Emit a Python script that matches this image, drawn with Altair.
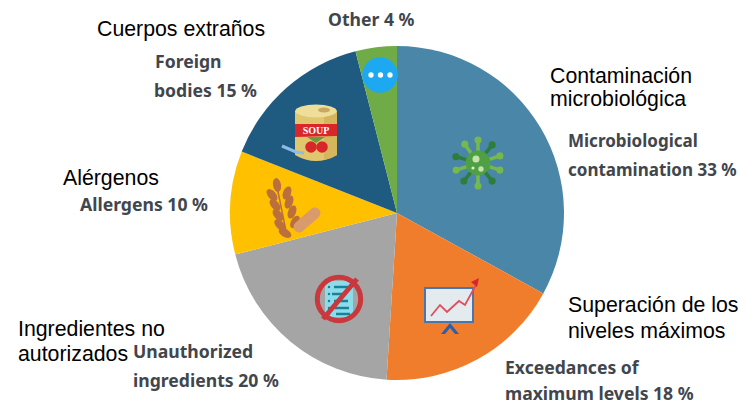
import math
import re
import altair as alt
import pandas as pd

categories = ["Microbiological contamination", "Exceedances of maximum levels", "Unauthorized ingredients",
              "Allergens", "Foreign bodies", "Other"]
shares = [33, 18, 20, 10, 15, 4]
colours = ["#4A86A8", "#F07D2B", "#A5A5A5", "#FFC000", "#1F5A80", "#6FAB46"]

english_labels = ["Other 4 %", "Foreign", "bodies 15 %", "Microbiological", "contamination 33 %", "Allergens 10 %",
                  "Unauthorized", "ingredients 20 %", "Exceedances of", "maximum levels 18 %"]
spanish_labels = ["Cuerpos extraños", "Contaminación", "microbiológica", "Alérgenos", "Superación de los",
                  "niveles máximos", "Ingredientes no", "autorizados"]

english_at = [(328, 26, 17.6), (155, 68, 17.6), (154, 97, 17.6), (568, 147, 17), (568, 176, 17), (80, 211, 17.6),
              (133, 358, 17.6), (133, 387, 17.6), (505, 374, 17.6), (505, 400, 17.6)]
spanish_at = [(97, 36), (550, 83), (550, 106), (63, 185), (568, 312), (568, 338), (18, 336), (18, 361)]

OFF = 8
layers = []

pie = pd.DataFrame({"category": categories, "share": shares, "idx": range(len(shares))})
layers.append(
    alt.Chart(pie).mark_arc(outerRadius=167).encode(
        theta=alt.Theta("share:Q", stack=True),
        order=alt.Order("idx:Q"),
        color=alt.Color("category:N", legend=None, sort=categories,
                        scale=alt.Scale(domain=categories, range=colours)),
        x=alt.value(397 - OFF), y=alt.value(213 - OFF),
    )
)

one = pd.DataFrame({"a": [0]})


def path(d, x, y, fill="transparent", stroke="transparent", sw=0, box=100, **kw):
    """d is written in px around (x, y); rescaled to the symbol's -1..1 box."""
    scaled = re.sub(r"-?\d+\.?\d*", lambda m: f"{float(m.group()) / (box / 2):.4f}", d)
    layers.append(alt.Chart(one).mark_point(
        shape=scaled, size=box * box, filled=True, fill=fill, stroke=stroke,
        strokeWidth=sw, opacity=1, **kw).encode(x=alt.value(x - OFF), y=alt.value(y - OFF)))


def circ(x, y, r, fill="transparent", stroke="transparent", sw=0):
    layers.append(alt.Chart(one).mark_point(
        shape="circle", size=math.pi * r * r, filled=True, fill=fill, stroke=stroke,
        strokeWidth=sw, opacity=1).encode(x=alt.value(x - OFF), y=alt.value(y - OFF)))


def ellipse(rx, ry, deg):
    a = math.radians(deg)
    pts = []
    n = 16
    for i in range(n):
        t = 2 * math.pi * i / n
        px, py = rx * math.cos(t), ry * math.sin(t)
        pts.append((px * math.cos(a) - py * math.sin(a), px * math.sin(a) + py * math.cos(a)))
    return "M" + "L".join(f"{p:.2f},{q:.2f}" for p, q in pts) + "Z"


# "Other" icon
circ(380, 75, 20, fill="#1DA9F2")
for dx in (371, 380.5, 390):
    circ(dx, 75, 3, fill="#FFFFFF")

# Soup can
path("M-21,-22L-21,22Q0,34 21,22L21,-22Z", 316, 133, fill="#E0C66C")
path("M8,-22L21,-22L21,22Q15,26 8,27Z", 316, 133, fill="#D4B65C")
path(ellipse(21, 6.5, 0), 316, 111, fill="#EFDD9A")
path(ellipse(6, 2.5, 0), 324, 110, fill="#C8A860")
path("M-21,-6L21,-6L21,6L-21,7Z", 316, 130, fill="#D9262B")
layers.append(alt.Chart(pd.DataFrame({"t": ["SOUP"]})).mark_text(
    font="Liberation Serif", fontWeight="bold", fontSize=10, color="#FFFFFF", align="center").encode(
    x=alt.value(316 - OFF), y=alt.value(131 - OFF), text="t:N"))
circ(311, 147, 6.5, fill="#D9262B")
circ(322, 147, 6.5, fill="#D9262B")
path("M-9,-3L9,-3L0,3Z", 316, 140, fill="#6B9B3C")
path("M-9,-4L5,2L13,3", 291, 150, stroke="#8DBBEA", sw=3)

# Virus
vx, vy = 478, 163
spike_angles = [(0, "#74B84E"), (38, "#2E7D3A"), (72, "#74B84E"), (108, "#74B84E"), (142, "#2E7D3A"),
                (180, "#74B84E"), (218, "#2E7D3A"), (252, "#74B84E"), (286, "#2E7D3A"), (325, "#74B84E")]
for deg, col in spike_angles:
    a = math.radians(deg)
    tx, ty = 23 * math.sin(a), -23 * math.cos(a)
    path(f"M0,0L{tx:.2f},{ty:.2f}", vx, vy, stroke=col, sw=3.5)
    circ(vx + tx, vy + ty, 4, fill=col)
circ(vx, vy, 14, fill="#4F9F45")
circ(476, 159, 4, fill="#C4E3A8")
circ(473, 168, 1.8, fill="#DDF0C8")
circ(481, 169, 3, fill="#C4E3A8")

# Presentation board
path("M-24,-17L24,-17L24,17L-24,17Z", 449, 305, fill="#E4EBEE", stroke="#4A76AE", sw=2)
path("M-9,0L0,-11L9,0L5,0L0,-6L-5,0Z", 450, 334, fill="#2E5FA8")
path("M-21,17L-12,6L-5,13L7,2L13,6L25,-16", 452, 299, stroke="#DD4F60", sw=1.8)
path("M-5,-1L3,-5L1,4Z", 476, 283, fill="#D9262B")

# Forbidden ingredients list
path("M-14,-18L14,-18L14,18L-14,18Z", 339, 299, fill="#8CDDEB")
for ly, lx in ((287, 0), (294, -2), (301, 0), (308, 1), (314, 2)):
    path("M-7,0L7,0", 341 + lx, ly, stroke="#1B8296", sw=2.5)
    circ(329, ly, 1.4, fill="#1B8296")
path("M-17,20L17,-20", 340, 299, stroke="#C8383C", sw=5)
circ(339, 299, 24.5, stroke="#C8383C", sw=5)

# Wheat and peanut
path("M-5,-27L6,27", 281, 209, stroke="#B8703F", sw=1.5)
for wx, wy, deg in [(277, 185, 80), (272, 195, 50), (287, 193, 110), (275, 205, 50), (289, 202, 110),
                    (278, 215, 50), (292, 212, 110), (280, 225, 45), (295, 222, 120), (285, 233, 30)]:
    path(ellipse(7, 4, deg), wx, wy, fill="#BB6F3C")
path("M-8,7L8,-7", 307, 220, stroke="#D99A6C", sw=11, strokeCap="round")

# Labels
for s, (x, y, fs) in zip(english_labels, english_at):
    layers.append(alt.Chart(pd.DataFrame({"t": [s]})).mark_text(
        font="Noto Sans", fontWeight="bold", fontSize=fs, color="#41464D", align="left", baseline="alphabetic").encode(
        x=alt.value(x - OFF), y=alt.value(y - OFF), text="t:N"))
for s, (x, y) in zip(spanish_labels, spanish_at):
    layers.append(alt.Chart(pd.DataFrame({"t": [s]})).mark_text(
        font="Liberation Sans", fontSize=21.3, color="#000000", align="left", baseline="alphabetic").encode(
        x=alt.value(x - OFF), y=alt.value(y - OFF), text="t:N"))

chart = alt.layer(*layers).properties(
    width=730, height=399, padding=0, autosize=alt.AutoSizeParams(type="none"),
    background="#FFFFFF",
).configure_view(stroke=None)

chart.save("out.html", embed_options={"renderer": "svg", "actions": False})
